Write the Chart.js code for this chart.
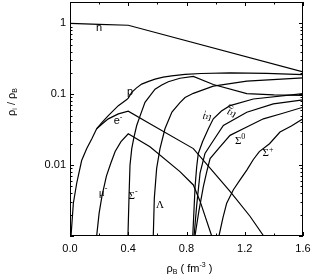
<!DOCTYPE html>
<html><head><meta charset="utf-8">
<script src="https://cdn.jsdelivr.net/npm/chart.js@4/dist/chart.umd.min.js"></script>
<style>html,body{margin:0;padding:0;background:#fff;}#wrap{width:311px;height:276px;}</style>
</head><body><div id="wrap"><canvas id="c" width="311" height="276"></canvas></div>
<script>
// ---- data ----
const xTicks = [0, 0.4, 0.8, 1.2, 1.6];
const yTicks = [0.01, 0.1, 1];

const nX = [0, 0.2, 0.4, 1.6];
const nY = [1.0, 0.97, 0.94, 0.207];

const pX = [0.007, 0.023, 0.046, 0.08, 0.115, 0.15, 0.183, 0.22, 0.263, 0.332, 0.39, 0.4, 0.424, 0.455, 0.492, 0.54, 0.584, 0.64, 0.698, 0.79, 0.9, 1.1, 1.35, 1.6];
const pY = [0.001, 0.0029, 0.00555, 0.0116, 0.0171, 0.0236, 0.0326, 0.040, 0.050, 0.069, 0.084, 0.088, 0.106, 0.122, 0.139, 0.152, 0.163, 0.174, 0.182, 0.190, 0.196, 0.200, 0.197, 0.189];

const eX = [0.183, 0.22, 0.263, 0.332, 0.4, 0.549, 0.847, 1.099, 1.236, 1.33];
const eY = [0.0326, 0.038, 0.0449, 0.0528, 0.0577, 0.0382, 0.0171, 0.00425, 0.0019, 0.001];

const muX = [0.183, 0.2, 0.22, 0.25, 0.28, 0.31, 0.35, 0.4, 0.549, 0.755, 0.847, 0.893, 0.973];
const muY = [0.001, 0.0021, 0.0037, 0.007, 0.0106, 0.0156, 0.0214, 0.0277, 0.0181, 0.0081, 0.00525, 0.0031, 0.001];

const sigMX = [0.398, 0.405, 0.412, 0.424, 0.44, 0.458, 0.485, 0.515, 0.55, 0.584, 0.63, 0.675, 0.755, 0.847, 0.984, 1.214, 1.4, 1.6];
const sigMY = [0.001, 0.0034, 0.01, 0.0171, 0.0252, 0.0362, 0.052, 0.077, 0.0953, 0.118, 0.135, 0.150, 0.168, 0.178, 0.137, 0.102, 0.098, 0.0966];

const lamX = [0.572, 0.579, 0.595, 0.618, 0.652, 0.7, 0.755, 0.79, 0.847, 0.984, 1.214, 1.6];
const lamY = [0.001, 0.0034, 0.009, 0.0171, 0.0326, 0.056, 0.076, 0.090, 0.103, 0.130, 0.153, 0.170];

const xiMX = [0.843, 0.859, 0.870, 0.881, 0.91, 0.95, 0.984, 1.04, 1.099, 1.259, 1.6];
const xiMY = [0.001, 0.005, 0.0095, 0.0146, 0.0214, 0.0326, 0.045, 0.058, 0.069, 0.0857, 0.102];

const xi0X = [0.852, 0.87, 0.893, 0.927, 0.97, 1.053, 1.214, 1.396, 1.6];
const xi0Y = [0.001, 0.0027, 0.0077, 0.0146, 0.020, 0.0362, 0.0558, 0.073, 0.083];

const sig0X = [0.858, 0.885, 0.916, 0.94, 0.962, 1.03, 1.099, 1.2, 1.328, 1.45, 1.6];
const sig0Y = [0.001, 0.00225, 0.005, 0.0082, 0.0124, 0.0181, 0.0263, 0.0333, 0.045, 0.053, 0.0656];

const sigPX = [1.023, 1.05, 1.076, 1.122, 1.17, 1.214, 1.259, 1.3, 1.37, 1.442, 1.52, 1.6];
const sigPY = [0.001, 0.0018, 0.0029, 0.0045, 0.0063, 0.0085, 0.012, 0.0155, 0.020, 0.0293, 0.0356, 0.045];

const series = [
  [nX, nY], [pX, pY], [eX, eY], [muX, muY], [sigMX, sigMY], [lamX, lamY],
  [xiMX, xiMY], [xi0X, xi0Y], [sig0X, sig0Y], [sigPX, sigPY]
];

// curve labels (text + anchor in data coordinates)
const curveLabels = [
  {t:'n', s:'', x:0.199, y:0.87, serif:false},
  {t:'p', s:'', x:0.412, y:0.107, serif:false},
  {t:'e', s:'-', x:0.33, y:0.042, serif:false},
  {t:'\u03BC', s:'-', x:0.227, y:0.0040, serif:true},
  {t:'\u03A3', s:'-', x:0.433, y:0.00365, serif:true},
  {t:'\u039B', s:'', x:0.618, y:0.00273, serif:true},
  {t:'\u039E', s:'-', x:0.948, y:0.0494, serif:true, rot:-75},
  {t:'\u039E', s:'0', x:1.12, y:0.0562, serif:true, rot:-60},
  {t:'\u03A3', s:'0', x:1.168, y:0.0221, serif:true},
  {t:'\u03A3', s:'+', x:1.36, y:0.0146, serif:true}
];

const SANS = '"Liberation Sans", Arial, sans-serif';
const SERIF = '"Liberation Serif", "Times New Roman", serif';

function drawRich(ctx, parts, cx, cy, rot) {
  ctx.save();
  ctx.translate(cx, cy);
  if (rot) ctx.rotate(rot * Math.PI / 180);
  let w = 0;
  parts.forEach(p => { ctx.font = p.f; p.w = ctx.measureText(p.t).width; w += p.w; });
  let x = -w / 2;
  ctx.textBaseline = 'middle';
  ctx.textAlign = 'left';
  parts.forEach(p => { ctx.font = p.f; ctx.fillText(p.t, x, p.dy || 0); x += p.w; });
  ctx.restore();
}

const decor = {
  id: 'decor',
  afterDatasetsDraw(chart) {
    const {ctx, chartArea: a, scales: {x, y}} = chart;
    ctx.save();
    ctx.strokeStyle = '#000';
    ctx.fillStyle = '#000';
    ctx.lineWidth = 1;
    ctx.strokeRect(a.left + 0.5, a.top + 0.5, a.right - a.left - 1, a.bottom - a.top - 1);
    ctx.beginPath();
    // x ticks (major + minor halfway)
    for (let i = 0; i < xTicks.length; i++) {
      const px = Math.round(x.getPixelForValue(xTicks[i])) + 0.5;
      ctx.moveTo(px, a.bottom); ctx.lineTo(px, a.bottom - 4);
      ctx.moveTo(px, a.top); ctx.lineTo(px, a.top + 4);
      if (i < xTicks.length - 1) {
        const pm = Math.round(x.getPixelForValue((xTicks[i] + xTicks[i + 1]) / 2)) + 0.5;
        ctx.moveTo(pm, a.bottom); ctx.lineTo(pm, a.bottom - 2.5);
        ctx.moveTo(pm, a.top); ctx.lineTo(pm, a.top + 2.5);
      }
    }
    // y ticks (log)
    for (let d = -3; d <= 0; d++) {
      for (let k = 1; k <= 9; k++) {
        const v = k * Math.pow(10, d);
        if (v < y.min || v > y.max) continue;
        const py = Math.round(y.getPixelForValue(v)) + 0.5;
        const len = k === 1 ? 4 : 2.5;
        ctx.moveTo(a.left, py); ctx.lineTo(a.left + len, py);
        ctx.moveTo(a.right, py); ctx.lineTo(a.right - len, py);
      }
    }
    ctx.stroke();

    // curve labels
    curveLabels.forEach(l => {
      const fam = l.serif ? SERIF : SANS;
      const parts = [{t: l.t, f: '11px ' + fam}];
      if (l.s) parts.push({t: l.s, f: '8px ' + fam, dy: -4});
      drawRich(ctx, parts, x.getPixelForValue(l.x), y.getPixelForValue(l.y), l.rot || 0);
    });

    // axis titles
    drawRich(ctx, [
      {t: '\u03C1', f: '11px ' + SANS},
      {t: 'B', f: '7px ' + SANS, dy: 3},
      {t: ' ( fm', f: '11px ' + SANS},
      {t: '-3', f: '7px ' + SANS, dy: -4},
      {t: ' )', f: '11px ' + SANS}
    ], (a.left + a.right) / 2 + 3, 269, 0);
    drawRich(ctx, [
      {t: '\u03C1', f: '11px ' + SANS},
      {t: 'i', f: '7px ' + SANS, dy: 3},
      {t: ' / \u03C1', f: '11px ' + SANS},
      {t: 'B', f: '7px ' + SANS, dy: 3}
    ], 12, 102, -90);
    ctx.restore();
  }
};

Chart.defaults.font.family = SANS;
Chart.defaults.font.size = 11;
Chart.defaults.color = '#000';

new Chart(document.getElementById('c'), {
  type: 'scatter',
  data: {
    datasets: series.map(([xs, ys]) => ({
      data: xs.map((v, i) => ({x: v, y: ys[i]})),
      showLine: true,
      borderColor: '#000',
      borderWidth: 1.2,
      pointRadius: 0,
      tension: 0
    }))
  },
  options: {
    responsive: false,
    devicePixelRatio: 1,
    animation: false,
    layout: {padding: {top: 2, right: 8, left: 0, bottom: 0}},
    plugins: {legend: {display: false}, tooltip: {enabled: false}},
    scales: {
      x: {
        type: 'linear', min: 0, max: 1.6,
        grid: {display: false, drawTicks: false},
        border: {display: false},
        afterBuildTicks: s => { s.ticks = xTicks.map(v => ({value: v})); },
        ticks: {padding: 6, maxRotation: 0, callback: v => Number(v).toFixed(1)},
        afterFit: s => { s.height = 40; s.paddingLeft = 0; s.paddingRight = 0; }
      },
      y: {
        type: 'logarithmic', min: 0.001, max: 2,
        grid: {display: false, drawTicks: false},
        border: {display: false},
        afterBuildTicks: s => { s.ticks = yTicks.map(v => ({value: v})); },
        ticks: {padding: 4, callback: v => String(v)},
        afterFit: s => { s.width = 70; s.paddingTop = 0; s.paddingBottom = 0; }
      }
    }
  },
  plugins: [decor]
});
</script>
</body></html>
